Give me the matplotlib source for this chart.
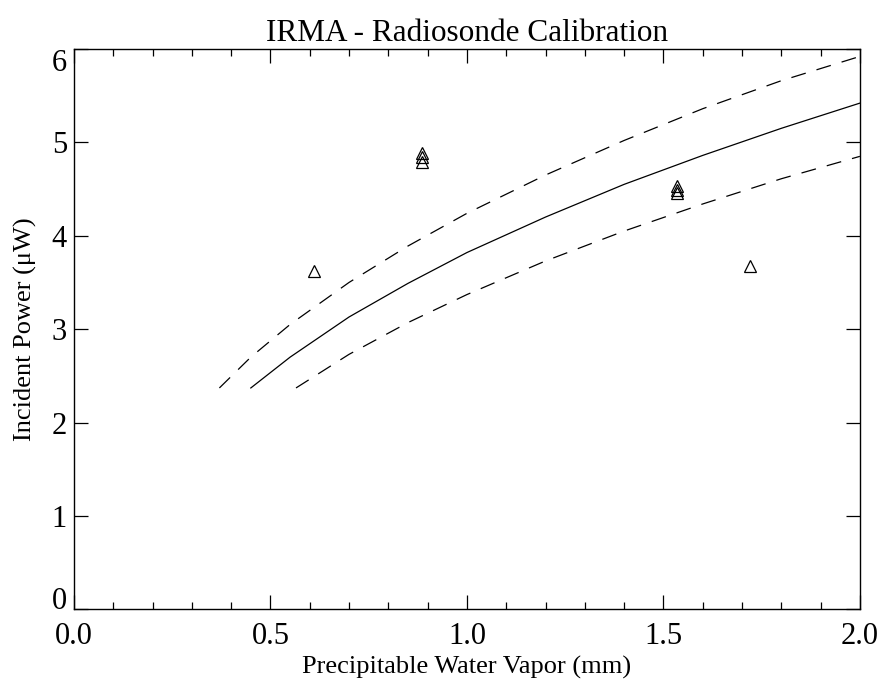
import numpy as np
import matplotlib.pyplot as plt
from matplotlib.ticker import MultipleLocator

plt.rcParams['font.family'] = ['Liberation Serif', 'DejaVu Serif']

# calibration curve
fit_x = [0.45, 0.55, 0.7, 0.85, 1.0, 1.2, 1.4, 1.6, 1.8, 2.0]
fit_y = [2.37, 2.70, 3.13, 3.49, 3.82, 4.20, 4.55, 4.86, 5.15, 5.42]

# upper / lower bounds
upper_x = [0.37, 0.45, 0.55, 0.7, 0.85, 1.0, 1.2, 1.4, 1.6, 1.8, 2.0]
upper_y = [2.37, 2.70, 3.05, 3.50, 3.89, 4.24, 4.65, 5.02, 5.36, 5.66, 5.92]
lower_x = [0.565, 0.7, 0.85, 1.0, 1.2, 1.4, 1.6, 1.8, 2.0]
lower_y = [2.37, 2.73, 3.07, 3.37, 3.73, 4.05, 4.34, 4.61, 4.85]

# radiosonde measurements
pwv = [0.61, 0.885, 0.885, 0.885, 1.535, 1.535, 1.535, 1.72]
power = [3.62, 4.79, 4.84, 4.89, 4.46, 4.49, 4.53, 3.68]

fig = plt.figure(figsize=(8.81, 6.80), dpi=100)
ax = fig.add_axes([0.084, 0.104, 0.892, 0.824])

ax.plot(fit_x, fit_y, color='black', lw=0.9)
ax.plot(upper_x, upper_y, color='black', lw=0.9, dashes=(12, 9))
ax.plot(lower_x, lower_y, color='black', lw=0.9, dashes=(12, 9))
ax.plot(pwv, power, linestyle='none', marker='^', ms=9, mfc='none',
        mec='black', mew=0.9)

ax.set_xticks([0, 0.5, 1.0, 1.5, 2.0])
ax.set_xticklabels(['0.0', '0.5', '1.0', '1.5', '2.0'])
ax.xaxis.set_minor_locator(MultipleLocator(0.1))
ax.set_yticks(range(7))
ax.set_yticklabels([str(i) for i in range(7)])
ax.set_xlim(0, 2)
ax.set_ylim(0, 6)
ax.tick_params(which='both', direction='in', top=True, right=True,
               labelsize=22, width=0.9)
ax.tick_params(which='major', length=10)
ax.tick_params(axis='x', which='major', pad=9)
ax.tick_params(axis='y', which='major', pad=5)
ax.tick_params(which='minor', length=5)
for s in ax.spines.values():
    s.set_linewidth(1.0)

# end labels sit inside the axis range, as in the original
ylabels = ax.get_yticklabels()
ylabels[0].set_va('baseline')
ylabels[-1].set_va('top')

ax.set_title('IRMA - Radiosonde Calibration', fontsize=22.5, pad=6)
ax.set_xlabel('Precipitable Water Vapor (mm)', fontsize=19, labelpad=4)
ax.set_ylabel('Incident Power (μW)', fontsize=19, labelpad=11)

fig.savefig('out.png', dpi=100)
